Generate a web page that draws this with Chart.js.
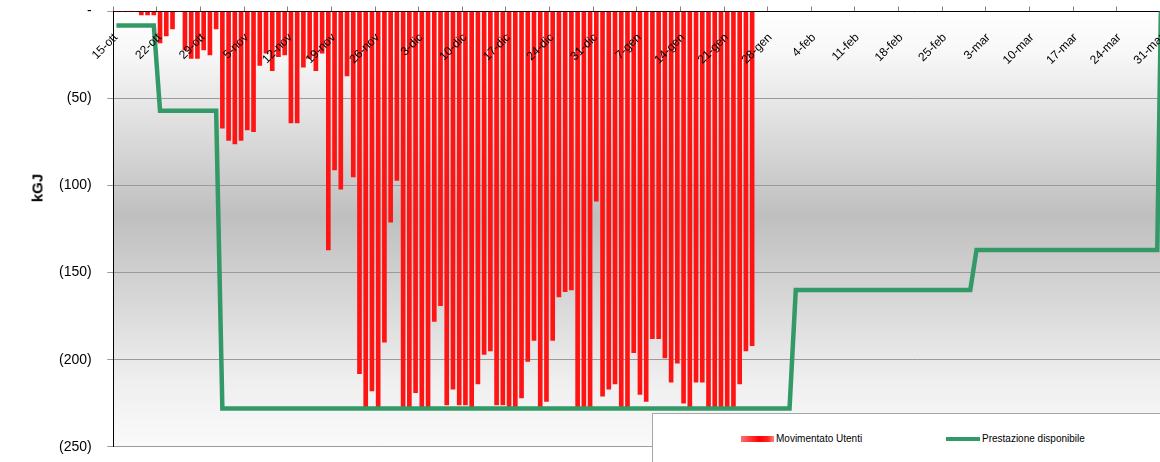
<!DOCTYPE html>
<html>
<head>
<meta charset="utf-8">
<title>Movimentato Utenti / Prestazione disponibile</title>
<script src="https://cdn.jsdelivr.net/npm/chart.js@4.4.1/dist/chart.umd.min.js"></script>
<style>
    html, body {
        margin: 0;
        padding: 0;
        background: #ffffff;
        width: 1160px;
        height: 462px;
        overflow: hidden;
    }

    #wrap {
        position: relative;
        width: 1190px;
        height: 462px;
    }

    #yTitle {
        position: absolute;
        left: 37px;
        top: 188px;
        transform: translate(-50%, -50%) rotate(-90deg);
        font: bold 15px "Liberation Sans", Arial, sans-serif;
        color: #000000;
        white-space: nowrap;
    }

    #legendBox {
        position: absolute;
        left: 652px;
        top: 413px;
        width: 560px;
        height: 60px;
        background: #ffffff;
        border-left: 1px solid #a6a6a6;
        border-top: 1px solid #a6a6a6;
        font: 10px "Liberation Sans", Arial, sans-serif;
        color: #000000;
    }

    .swatch {
        position: absolute;
    }

    .label {
        position: absolute;
        top: 19px;
        line-height: 12px;
        white-space: nowrap;
    }
</style>
</head>
<body>
<div id="wrap">
    <canvas id="chart" width="1190" height="462"></canvas>

    <div id="yTitle">kGJ</div>

    <div id="legendBox">
        <span class="swatch" style="left:88px; top:22px; width:33px; height:6px; background:linear-gradient(to right, #ff7070, #ff0000 55%, #ff2020 80%, #ff8080);"></span>
        <span class="label" style="left:123px;">Movimentato Utenti</span>
        <span class="swatch" style="left:293px; top:23px; width:34px; height:4px; background:#339966;"></span>
        <span class="label" style="left:329px;">Prestazione disponibile</span>
    </div>
</div>

<script>
// ==============================
// DATA
// day 0 = 15-ott, one value per day
// ==============================

const tickLabels = [
    "15-ott", "22-ott", "29-ott", "5-nov", "12-nov", "19-nov", "26-nov",
    "3-dic", "10-dic", "17-dic", "24-dic", "31-dic", "7-gen", "14-gen",
    "21-gen", "28-gen", "4-feb", "11-feb", "18-feb", "25-feb", "3-mar",
    "10-mar", "17-mar", "24-mar", "31-mar"
];

const tickDays = [
    0, 7, 14, 21, 28, 35, 42, 49, 56, 63, 70, 77, 84, 91, 98, 105,
    112, 119, 126, 133, 140, 147, 154, 161, 168
];

// Movimentato Utenti (kGJ), days 0..102
const userValues = [
    0, 0, 0, 0, -2, -2, -2, -18, -14, -10,
    0, -22, -27, -27, -22, -25, -10, -67, -74, -76,
    -74, -68, -69, -31, -24, -34, -26, -25, -64, -64,
    -32, -27, -34, -24, -137, -91, -102, -37, -95, -208,
    -227, -218, -227, -190, -121, -97, -227, -227, -219, -227,
    -227, -178, -169, -226, -217, -226, -226, -227, -214, -197,
    -195, -226, -226, -227, -227, -222, -201, -189, -228, -224,
    -189, -164, -161, -160, -228, -228, -228, -109, -221, -217,
    -214, -228, -228, -196, -220, -224, -188, -188, -199, -213,
    -202, -225, -227, -213, -213, -228, -228, -228, -228, -228,
    -214, -195, -192
];

// Prestazione disponibile (kGJ): step line, corner days and values
const capacityDays = [0, 6, 7, 16, 17, 108, 109, 137, 138, 167, 168];
const capacityValues = [-8, -8, -57, -57, -228, -228, -160, -160, -137, -137, 100];

const xMaxDay = 172;
const labelShift = 0.4;


// ==============================
// Plot area gradient
// ==============================
const plotBackground = {
    id: "plotBackground",
    beforeDraw(chart) {
        const { ctx, chartArea } = chart;
        if (!chartArea) return;

        const g = ctx.createLinearGradient(0, chartArea.top, 0, chartArea.bottom);
        g.addColorStop(0, "#ffffff");
        g.addColorStop(0.1, "#f7f7f7");
        g.addColorStop(0.47, "#bfbfbf");
        g.addColorStop(0.85, "#efefef");
        g.addColorStop(1, "#fafafa");

        ctx.save();
        ctx.fillStyle = g;
        ctx.fillRect(chartArea.left, chartArea.top,
            chartArea.right - chartArea.left, chartArea.bottom - chartArea.top);
        ctx.restore();
    }
};


// ==============================
// Chart
// ==============================
Chart.defaults.font.family = '"Liberation Sans", Arial, sans-serif';
Chart.defaults.color = "#000000";

const chartCanvas = document.getElementById("chart");

new Chart(chartCanvas, {
    type: "bar",
    data: {
        datasets: [
            {
                type: "line",
                label: "Prestazione disponibile",
                data: capacityDays.map((d, i) => ({ x: d + 0.5, y: capacityValues[i] })),
                borderColor: "#339966",
                borderWidth: 4.5,
                pointRadius: 0,
                tension: 0,
                xAxisID: "x",
                yAxisID: "y",
                order: 0
            },
            {
                type: "bar",
                label: "Movimentato Utenti",
                data: userValues.map((v, i) => ({ x: i + 0.5, y: v })),
                backgroundColor: "#ff1414",
                borderWidth: 0,
                barThickness: 4,
                xAxisID: "x",
                yAxisID: "y",
                order: 1
            }
        ]
    },
    options: {
        responsive: false,
        animation: false,
        layout: {
            padding: { left: 0, top: 6.5, right: 4.7, bottom: 15.3 }
        },
        plugins: {
            legend: { display: false },
            tooltip: { enabled: false }
        },
        scales: {
            x: {
                type: "linear",
                position: "top",
                min: 0,
                max: xMaxDay,
                offset: false,
                ticks: {
                    display: false,
                    stepSize: 7,
                    includeBounds: false
                },
                grid: {
                    drawOnChartArea: false,
                    offset: false,
                    tickLength: 5,
                    color: "#808080"
                },
                border: { color: "#000000", width: 1 }
            },
            xTicks: {
                type: "linear",
                position: { y: 0 },
                min: 0,
                max: xMaxDay,
                offset: false,
                afterBuildTicks: scale => {
                    scale.ticks = tickDays.map(d => ({ value: d + labelShift }));
                },
                afterFit: scale => {
                    scale.paddingLeft = 0;
                    scale.paddingRight = 0;
                },
                ticks: {
                    autoSkip: false,
                    minRotation: 45,
                    maxRotation: 45,
                    padding: 11,
                    z: 1,
                    color: "#000000",
                    font: { size: 12 },
                    callback: (value, index) => tickLabels[index]
                },
                grid: { display: false, offset: false },
                border: { display: false }
            },
            y: {
                type: "linear",
                min: -250,
                max: 0,
                afterFit: scale => {
                    scale.width = 113.3;
                    scale.paddingTop = 0;
                    scale.paddingBottom = 0;
                },
                ticks: {
                    stepSize: 50,
                    padding: 15.6,
                    color: "#000000",
                    font: { size: 14 },
                    callback: v => v === 0 ? "-" : "(" + (-v) + ")"
                },
                grid: {
                    color: "#9a9a9a",
                    tickLength: 6
                },
                border: { color: "#000000", width: 1 }
            }
        }
    },
    plugins: [plotBackground]
});
</script>
</body>
</html>
